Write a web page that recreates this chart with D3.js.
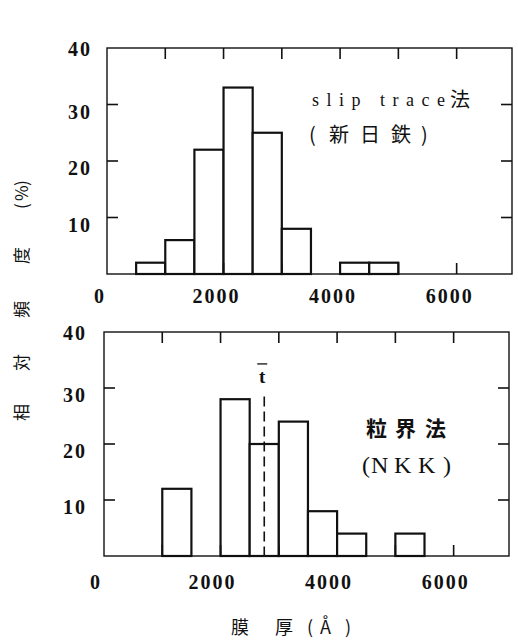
<!DOCTYPE html>
<html>
<head>
<meta charset="utf-8">
<script src="https://cdn.jsdelivr.net/npm/d3@7"></script>
<style>
  body { margin: 0; background: #fff; }
  svg { display: block; }
  .num { font-family: "Liberation Serif", "DejaVu Serif", serif; font-weight: bold; font-size: 20px; letter-spacing: 2px; fill: #111; }
  .lbl { font-family: "Liberation Serif", "DejaVu Serif", serif; fill: #111; }
  .cjk { font-family: "Noto Sans CJK JP", sans-serif; fill: #111; }
</style>
</head>
<body>
<svg id="chart" width="518" height="642"></svg>
<script>
// histogram data, bins are 500 A wide, value = relative frequency (%)
var binWidth = 500;
var topBins = [500, 1000, 1500, 2000, 2500, 3000, 4000, 4500];
var topValues = [2, 6, 22, 33, 25, 8, 2, 2];
var bottomBins = [1000, 2000, 2500, 3000, 3500, 4000, 5000];
var bottomValues = [12, 28, 20, 24, 8, 4, 4];
var meanThickness = 2750;

var xTickValues = [1000, 2000, 3000, 4000, 5000, 6000];
var xLabels = [0, 2000, 4000, 6000];
var yTickValues = [10, 20, 30];
var yLabels = [10, 20, 30, 40];

var svg = d3.select("#chart");
svg.append("rect").attr("width", 518).attr("height", 642).attr("fill", "#fff");

function drawPanel(box, bins, values) {
    var x = d3.scaleLinear().domain([0, 6950]).range([box.left, box.right]);
    var y = d3.scaleLinear().domain([0, 40]).range([box.bottom, box.top]);
    var g = svg.append("g");

    // bars
    g.selectAll("rect.bar")
      .data(bins)
      .enter().append("rect")
        .attr("class", "bar")
        .attr("x", function(d) { return x(d); })
        .attr("y", function(d, i) { return y(values[i]); })
        .attr("width", function(d) { return x(d + binWidth) - x(d); })
        .attr("height", function(d, i) { return y(0) - y(values[i]); })
        .style("fill", "#fff")
        .style("stroke", "#111")
        .style("stroke-width", 2.2);

    // frame
    g.append("rect")
      .attr("x", x(0)).attr("y", y(40))
      .attr("width", x(6950) - x(0)).attr("height", y(0) - y(40))
      .style("fill", "none").style("stroke", "#111").style("stroke-width", 1.4);

    // inward ticks
    var tl = 11;
    xTickValues.forEach(function(v) {
        g.append("line").attr("x1", x(v)).attr("x2", x(v))
          .attr("y1", y(40)).attr("y2", y(40) + tl)
          .style("stroke", "#111").style("stroke-width", 1.6);
        g.append("line").attr("x1", x(v)).attr("x2", x(v))
          .attr("y1", y(0)).attr("y2", y(0) - tl)
          .style("stroke", "#111").style("stroke-width", 1.6);
    });
    yTickValues.forEach(function(v) {
        g.append("line").attr("x1", x(0)).attr("x2", x(0) + tl)
          .attr("y1", y(v)).attr("y2", y(v))
          .style("stroke", "#111").style("stroke-width", 1.6);
        g.append("line").attr("x1", x(6950)).attr("x2", x(6950) - tl)
          .attr("y1", y(v)).attr("y2", y(v))
          .style("stroke", "#111").style("stroke-width", 1.6);
    });

    // tick labels
    g.selectAll("text.xl")
      .data(xLabels)
      .enter().append("text")
        .attr("class", "num")
        .attr("x", function(d) { return x(d) - box.xShift; })
        .attr("y", y(0) + box.xLabelDy)
        .attr("text-anchor", "middle")
        .text(function(d) { return d; });
    g.selectAll("text.yl")
      .data(yLabels)
      .enter().append("text")
        .attr("class", "num")
        .attr("x", x(0) - box.yLabelDx)
        .attr("y", function(d) { return y(d) + (d == 40 ? 8 : 14); })
        .attr("text-anchor", "end")
        .text(function(d) { return d; });

    return {x: x, y: y};
}

var top = drawPanel({left: 107, right: 512, top: 48, bottom: 274, xShift: 7, xLabelDy: 29, yLabelDx: 15}, topBins, topValues);
var bot = drawPanel({left: 104, right: 509, top: 332, bottom: 556, xShift: 8, xLabelDy: 33, yLabelDx: 17}, bottomBins, bottomValues);

// mean thickness (dashed)
svg.append("line")
  .attr("x1", bot.x(meanThickness)).attr("x2", bot.x(meanThickness))
  .attr("y1", bot.y(28.5)).attr("y2", bot.y(0))
  .style("stroke", "#111").style("stroke-width", 1.6)
  .style("stroke-dasharray", "10,5");
svg.append("text")
  .attr("class", "lbl")
  .attr("x", bot.x(meanThickness) - 2)
  .attr("y", bot.y(30.9))
  .attr("text-anchor", "middle")
  .style("font-size", "19px").style("font-weight", "bold")
  .text("t");
svg.append("line")
  .attr("x1", bot.x(meanThickness) - 7).attr("x2", bot.x(meanThickness) + 3)
  .attr("y1", bot.y(34.3)).attr("y2", bot.y(34.3))
  .style("stroke", "#111").style("stroke-width", 1.3);

// panel labels
svg.append("text").attr("class", "lbl")
  .attr("x", 312).attr("y", 106)
  .style("font-size", "18px").style("letter-spacing", "7.5px")
  .text("slip trace");
svg.append("text").attr("class", "cjk")
  .attr("x", 450).attr("y", 107).style("font-size", "20px")
  .text("法");
svg.append("text").attr("class", "cjk")
  .attr("x", "309 329 360 391 421").attr("y", 142)
  .style("font-size", "20px")
  .text("(新日鉄)");

svg.append("text").attr("class", "cjk")
  .attr("x", "366 395 425").attr("y", 436)
  .style("font-size", "21px").style("font-weight", "bold")
  .text("粒界法");
svg.append("text").attr("class", "lbl")
  .attr("x", "362 371 394 418 443").attr("y", 473)
  .style("font-size", "24px")
  .text("(NKK)");

// axis titles
svg.append("text").attr("class", "cjk")
  .attr("transform", "translate(28,0) rotate(-90)")
  .attr("x", "-421 -371 -318 -264 -209 -201 -186").attr("y", 0)
  .style("font-size", "17px")
  .text("相対頻度(%)");
svg.append("text").attr("class", "cjk")
  .attr("x", "231 275 307 320 345").attr("y", 634)
  .style("font-size", "18px")
  .text("膜厚(Å)");
</script>
</body>
</html>
